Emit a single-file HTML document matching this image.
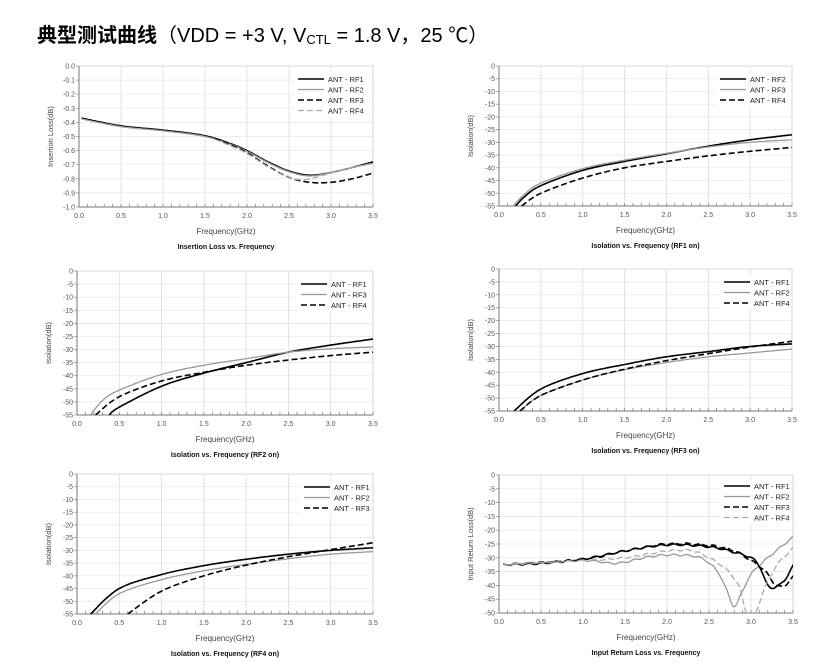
<!DOCTYPE html>
<html><head><meta charset="utf-8"><style>
body{margin:0;background:#fff;width:838px;height:670px;overflow:hidden}
svg{position:absolute;left:0;top:0}
</style></head><body>
<svg id="s" width="838" height="670" xmlns="http://www.w3.org/2000/svg" font-family="Liberation Sans, sans-serif">
<text x="37" y="42" font-size="20" font-weight="bold" font-family="Liberation Sans, Noto Sans CJK SC, sans-serif" fill="#000">典型测试曲线<tspan font-weight="normal">（VDD = +3 V, V<tspan font-size="13" dy="2">CTL</tspan><tspan dy="-2"> = 1.8 V，25 ℃）</tspan></tspan></text>
</svg>
<script>
const S=document.getElementById('s');let h='';
function smooth(pts,X,Y,wig){
  let out=[];
  for(let i=0;i<pts.length-1;i++){
    const p0=pts[Math.max(0,i-1)],p1=pts[i],p2=pts[i+1],p3=pts[Math.min(pts.length-1,i+2)];
    for(let t=0;t<1;t+=0.05){
      const t2=t*t,t3=t2*t;
      const f=(a,b,c,d)=>0.5*((2*b)+(-a+c)*t+(2*a-5*b+4*c-d)*t2+(-a+3*b-3*c+d)*t3);
      let x=f(p0[0],p1[0],p2[0],p3[0]),y=f(p0[1],p1[1],p2[1],p3[1]);
      if(wig) y+=wig*Math.sin(x*40);
      out.push([x,y]);
    }
  }
  out.push(pts[pts.length-1]);
  return out.map(p=>X(p[0]).toFixed(1)+','+Y(p[1]).toFixed(1)).join(' ');
}
function chart(c){
  const {x0,x1,y0,y1,ymin,ystep,ylab,title,series,legend,lx,ly,dec,wig}=c;
  const X=v=>x0+(x1-x0)*v/3.5, Y=v=>y0+(y1-y0)*(v/ymin);
  h+=`<rect x="${x0}" y="${y0}" width="${x1-x0}" height="${y1-y0}" fill="#fff" stroke="#aaa" stroke-width="0.8"/>`;
  const n=Math.round(Math.abs(ymin/ystep));
  for(let i=0;i<=n;i++){const v=-i*ystep,y=Y(v);
    h+=`<line x1="${x0}" x2="${x1}" y1="${y}" y2="${y}" stroke="#e6e6e6" stroke-width="0.7"/>`;
    h+=`<line x1="${x0-3}" x2="${x0}" y1="${y}" y2="${y}" stroke="#888" stroke-width="0.7"/>`;
    h+=`<text x="${x0-4}" y="${y+2.5}" font-size="7" fill="#555" text-anchor="end">${dec?(v===0?'0.0':v.toFixed(1)):v}</text>`;}
  for(let i=0;i<=7;i++){const x=X(i*0.5);
    h+=`<line x1="${x}" x2="${x}" y1="${y0}" y2="${y1}" stroke="#ddd" stroke-width="0.8"/>`;
    h+=`<text x="${x}" y="${y1+11}" font-size="7" fill="#555" text-anchor="middle">${(i*0.5).toFixed(1)}</text>`;}
  for(let i=0;i<=35;i++){const x=X(i*0.1);h+=`<line x1="${x}" x2="${x}" y1="${y1-3}" y2="${y1}" stroke="#777" stroke-width="0.7"/>`;}
  h+=`<line x1="${x0}" x2="${x1}" y1="${y1}" y2="${y1}" stroke="#777" stroke-width="1"/>`;
  h+=`<line x1="${x0}" x2="${x0}" y1="${y0}" y2="${y1}" stroke="#777" stroke-width="1"/>`;
  h+=`<text x="${(x0+x1)/2}" y="${y1+27}" font-size="8" fill="#444" text-anchor="middle">Frequency(GHz)</text>`;
  h+=`<text x="${(x0+x1)/2}" y="${y1+42}" font-size="7" font-weight="bold" fill="#111" text-anchor="middle">${title}</text>`;
  h+=`<text transform="translate(${x0-26},${(y0+y1)/2}) rotate(-90)" font-size="7.5" fill="#444" text-anchor="middle">${ylab}</text>`;
  h+=`<clipPath id="c${x0}${y0}"><rect x="${x0}" y="${y0}" width="${x1-x0}" height="${y1-y0}"/></clipPath><g clip-path="url(#c${x0}${y0})">`;
  const sty=[['#000','none',1.6],['#999','none',1.3],['#000','6,3',1.6],['#aaa','6,3',1.3]];
  series.forEach((s,i)=>{const st=sty[s.t];
    h+=`<polyline points="${smooth(s.p,X,Y,wig)}" fill="none" stroke="${st[0]}" stroke-width="${st[2]}" stroke-dasharray="${st[1]}"/>`;});
  h+='</g>';
  h+=`<rect x="${lx-4}" y="${ly-6}" width="${x1-lx+2}" height="${legend.length*10.5+2}" fill="#fff"/>`;
  legend.forEach((l,i)=>{const st=sty[series[i].t],y=ly+i*10.5;
    h+=`<line x1="${lx}" x2="${lx+26}" y1="${y}" y2="${y}" stroke="${st[0]}" stroke-width="${st[2]}" stroke-dasharray="${st[1]}"/>`;
    h+=`<text x="${lx+30}" y="${y+3}" font-size="7.5" fill="#222">${l}</text>`;});
}
chart({x0:79,x1:373,y0:66,y1:207,ymin:-1,ystep:0.1,dec:1,ylab:'Insertion Loss(dB)',title:'Insertion Loss vs. Frequency',lx:298,ly:79,
legend:['ANT - RF1','ANT - RF2','ANT - RF3','ANT - RF4'],series:[
{t:0,p:[[0.03,-0.37],[0.5,-0.425],[1,-0.455],[1.5,-0.495],[1.8,-0.55],[2,-0.6],[2.25,-0.68],[2.5,-0.745],[2.75,-0.775],[3,-0.755],[3.25,-0.72],[3.5,-0.68]]},
{t:1,p:[[0.03,-0.375],[0.5,-0.43],[1,-0.46],[1.5,-0.5],[1.8,-0.555],[2,-0.605],[2.25,-0.685],[2.5,-0.75],[2.75,-0.78],[3,-0.755],[3.25,-0.72],[3.5,-0.69]]},
{t:2,p:[[0.03,-0.37],[0.5,-0.425],[1,-0.455],[1.5,-0.495],[1.8,-0.56],[2,-0.615],[2.25,-0.71],[2.5,-0.79],[2.75,-0.825],[3,-0.825],[3.25,-0.8],[3.5,-0.76]]},
{t:3,p:[[0.03,-0.375],[0.5,-0.43],[1,-0.46],[1.5,-0.5],[1.8,-0.565],[2,-0.62],[2.25,-0.715],[2.5,-0.79],[2.7,-0.805],[3,-0.76],[3.25,-0.72],[3.5,-0.69]]}]});
chart({x0:499,x1:792,y0:66,y1:206,ymin:-55,ystep:5,ylab:'Isolation(dB)',title:'Isolation vs. Frequency (RF1 on)',lx:720,ly:79,
legend:['ANT - RF2','ANT - RF3','ANT - RF4'],series:[
{t:0,p:[[0.2,-55],[0.3,-51.5],[0.5,-47],[1,-41],[1.5,-37.5],[2,-34.5],[2.5,-31.5],[3,-29],[3.5,-27]]},
{t:1,p:[[0.17,-55],[0.3,-50.5],[0.5,-46],[1,-40.3],[1.5,-37],[2,-34.3],[2.5,-31.8],[3,-30],[3.5,-29]]},
{t:2,p:[[0.27,-55],[0.5,-50],[1,-44],[1.5,-40],[2,-37.5],[2.5,-35.3],[3,-33.5],[3.5,-32]]}]});
chart({x0:77,x1:373,y0:271,y1:415,ymin:-55,ystep:5,ylab:'Isolation(dB)',title:'Isolation vs. Frequency (RF2 on)',lx:301,ly:284,
legend:['ANT - RF1','ANT - RF3','ANT - RF4'],series:[
{t:0,p:[[0.38,-55],[0.5,-52],[1,-44],[1.5,-39],[2,-35],[2.5,-31],[3,-28.3],[3.5,-26]]},
{t:1,p:[[0.16,-55],[0.3,-49.5],[0.5,-45.5],[1,-39.5],[1.5,-36],[2,-33.5],[2.5,-31],[3,-29.7],[3.5,-29]]},
{t:2,p:[[0.22,-55],[0.5,-48],[1,-42],[1.5,-38.7],[2,-36],[2.5,-34],[3,-32.3],[3.5,-31]]}]});
chart({x0:499,x1:792,y0:269,y1:411,ymin:-55,ystep:5,ylab:'Isolation(dB)',title:'Isolation vs. Frequency (RF3 on)',lx:724,ly:282,
legend:['ANT - RF1','ANT - RF2','ANT - RF4'],series:[
{t:0,p:[[0.18,-55],[0.5,-46.5],[1,-40.5],[1.5,-37],[2,-34],[2.5,-32],[3,-30],[3.5,-29]]},
{t:1,p:[[0.25,-55],[0.5,-49],[1,-43],[1.5,-39],[2,-36.2],[2.5,-34],[3,-32.5],[3.5,-31]]},
{t:2,p:[[0.25,-55],[0.5,-49],[1,-43],[1.5,-38.8],[2,-35.5],[2.5,-32.8],[3,-30.2],[3.5,-28]]}]});
chart({x0:77,x1:373,y0:474,y1:614,ymin:-55,ystep:5,ylab:'Isolation(dB)',title:'Isolation vs. Frequency (RF4 on)',lx:304,ly:487,
legend:['ANT - RF1','ANT - RF2','ANT - RF3'],series:[
{t:0,p:[[0.16,-55],[0.5,-45],[1,-39.5],[1.5,-36],[2,-33.5],[2.5,-31.5],[3,-30],[3.5,-29]]},
{t:1,p:[[0.22,-55],[0.5,-47],[1,-41.5],[1.5,-38],[2,-35.5],[2.5,-33.3],[3,-31.5],[3.5,-30.5]]},
{t:2,p:[[0.6,-55],[1,-46],[1.5,-40],[2,-35.8],[2.5,-32.5],[3,-29.7],[3.5,-27]]}]});
chart({x0:499,x1:793,y0:475,y1:613,ymin:-50,ystep:5,ylab:'Input Return Loss(dB)',title:'Input Return Loss vs. Frequency',lx:724,ly:486,wig:0.3,
legend:['ANT - RF1','ANT - RF2','ANT - RF3','ANT - RF4'],series:[
{t:0,p:[[0.05,-32.5],[0.5,-32],[1,-30.5],[1.5,-27.5],[2,-25.3],[2.5,-26],[2.8,-28],[3,-30],[3.1,-33],[3.2,-40],[3.3,-40.5],[3.4,-38],[3.5,-33]]},
{t:1,p:[[0.05,-32.5],[1,-31],[1.4,-32],[1.8,-29.5],[2.1,-29],[2.4,-30],[2.6,-35],[2.7,-41],[2.8,-47.5],[2.9,-42],[3.0,-36],[3.2,-30],[3.5,-22.5]]},
{t:2,p:[[0.05,-32.5],[1,-30.5],[1.5,-27.5],[2,-25],[2.5,-25.5],[2.8,-27.5],[3,-31],[3.1,-33],[3.2,-36],[3.3,-40],[3.4,-40],[3.5,-37]]},
{t:3,p:[[0.05,-32.5],[1,-31],[1.5,-30],[2,-27.5],[2.3,-27.5],[2.5,-30],[2.7,-34],[2.85,-40],[2.95,-50],[3.05,-50],[3.15,-42],[3.3,-33],[3.5,-26.5]]}]});
S.insertAdjacentHTML('beforeend',h);
</script>
</body></html>
